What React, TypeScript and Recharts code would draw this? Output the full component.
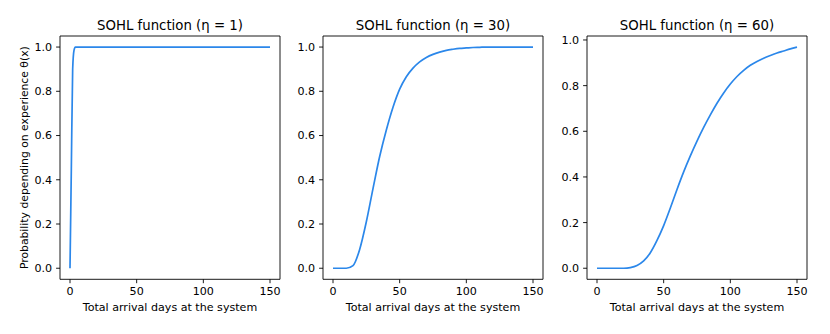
import { FC } from "react"
import { Label, Line, LineChart, ReferenceArea, XAxis, YAxis } from "recharts"

// sample days for eta = 1 (steep start)
const daysEta1 = [0, 1, 2, 3, 4, 5, 10, 20, 30, 40, 50, 60, 70, 80, 90, 100, 110, 120, 130, 140, 150]
const probEta1 = [0, 0.45, 0.9, 0.985, 1, 1, 1, 1, 1, 1, 1, 1, 1, 1, 1, 1, 1, 1, 1, 1, 1]

const days = [
  0, 5, 10, 15, 20, 25, 30, 35, 40, 45, 50, 55, 60, 65, 70, 75,
  80, 85, 90, 95, 100, 105, 110, 115, 120, 125, 130, 135, 140, 145, 150,
]
const probEta30 = [
  0, 0, 0, 0.012, 0.085, 0.21, 0.36, 0.505, 0.625, 0.728, 0.81, 0.866, 0.905, 0.933, 0.953, 0.967,
  0.977, 0.985, 0.99, 0.994, 0.996, 0.998, 0.999, 1, 1, 1, 1, 1, 1, 1, 1,
]
const probEta60 = [
  0, 0, 0, 0, 0, 0.003, 0.012, 0.032, 0.068, 0.122, 0.187, 0.264, 0.345, 0.422, 0.492, 0.557,
  0.617, 0.672, 0.723, 0.768, 0.807, 0.84, 0.867, 0.889, 0.906, 0.92, 0.932, 0.943, 0.952, 0.961, 0.969,
]

const xTicks = [0, 50, 100, 150]
const yTicks = [0, 0.2, 0.4, 0.6, 0.8, 1.0]
const titles = ["SOHL function (η = 1)", "SOHL function (η = 30)", "SOHL function (η = 60)"]

const LINE = "#2b87ea"
const X_DOMAIN: [number, number] = [-7.5, 157.5]
const FS = 11.1

interface PanelProps {
  data: { day: number; p: number }[]
  title: string
  left: number
  width: number
  axisWidth: number
  yDomain: [number, number]
  yLabel?: string
}

const Panel: FC<PanelProps> = ({ data, title, left, width, axisWidth, yDomain, yLabel }) => {
  return (
    <div style={{ position: "absolute", left, top: 0 }}>
      <LineChart width={width} height={334} data={data} margin={{ top: 36, right: 10, bottom: 0, left: 0 }}>
        <XAxis
          dataKey="day"
          type="number"
          domain={X_DOMAIN}
          ticks={xTicks}
          interval={0}
          height={54.7}
          axisLine={false}
          tickSize={3.9}
          tickMargin={4.2}
          tickLine={{ stroke: "#000", strokeWidth: 0.9 }}
          tick={{ fill: "#000", fontSize: FS }}
        >
          <Label value="Total arrival days at the system" position="insideBottom" offset={23} fill="#000" fontSize={FS} />
        </XAxis>
        <YAxis
          type="number"
          domain={yDomain}
          ticks={yTicks}
          interval={0}
          width={axisWidth}
          axisLine={false}
          tickSize={3.9}
          tickMargin={3.9}
          tickLine={{ stroke: "#000", strokeWidth: 0.9 }}
          tick={{ fill: "#000", fontSize: FS }}
          tickFormatter={(v: number) => v.toFixed(1)}
        >
          {yLabel && (
            <Label
              content={(props: any) => {
                const vb = props.viewBox || {}
                const cx = (vb.x || 0) + 28
                const cy = (vb.y || 0) + (vb.height || 0) / 2
                return (
                  <text
                    x={cx}
                    y={cy}
                    transform={`rotate(-90 ${cx} ${cy})`}
                    textAnchor="middle"
                    fontSize={10.8}
                    fill="#000"
                  >
                    {yLabel}
                  </text>
                )
              }}
            />
          )}
        </YAxis>
        <ReferenceArea
          x1={X_DOMAIN[0]}
          x2={X_DOMAIN[1]}
          y1={yDomain[0]}
          y2={yDomain[1]}
          fill="none"
          stroke="#000"
          strokeWidth={0.9}
          label={{ value: title, position: "top", offset: 6, fill: "#000", fontSize: 13.3 }}
        />
        <Line dataKey="p" type="monotone" stroke={LINE} strokeWidth={1.7} dot={false} isAnimationActive={false} />
      </LineChart>
    </div>
  )
}

const App: FC = () => {
  const d1 = daysEta1.map((d, i) => ({ day: d, p: probEta1[i] }))
  const d30 = days.map((d, i) => ({ day: d, p: probEta30[i] }))
  const d60 = days.map((d, i) => ({ day: d, p: probEta60[i] }))
  const max60 = Math.max(...probEta60)
  const pad60 = max60 * 0.05
  return (
    <div
      style={{
        position: "absolute",
        left: 0,
        top: 0,
        width: 830,
        height: 334,
        background: "#fff",
        fontFamily: "'DejaVu Sans', sans-serif",
      }}
    >
      <Panel data={d1} title={titles[0]} left={0} width={290} axisWidth={60} yDomain={[-0.05, 1.05]}
        yLabel="Probability depending on experience θ(x)" />
      <Panel data={d30} title={titles[1]} left={283.3} width={270} axisWidth={40} yDomain={[-0.05, 1.05]} />
      <Panel data={d60} title={titles[2]} left={547.3} width={270} axisWidth={40} yDomain={[-pad60, max60 + pad60]} />
    </div>
  )
}

export default App
